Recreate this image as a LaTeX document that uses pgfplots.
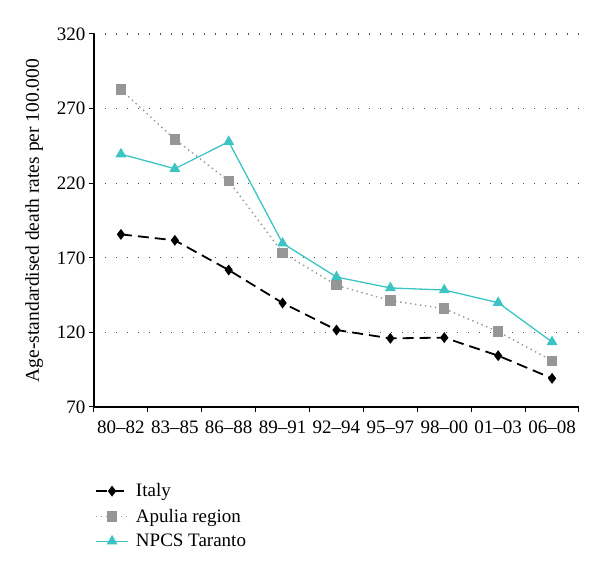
\documentclass[border=0pt]{standalone}
\usepackage{fontspec}
\setmainfont{Liberation Serif}
\usepackage{pgfplots}
\pgfplotsset{compat=1.18}
\definecolor{tar}{RGB}{60,196,196}
\definecolor{apu}{RGB}{150,150,150}
\begin{document}
\begin{tikzpicture}
\path[use as bounding box] (-94pt,-165pt) rectangle (506pt,407pt);
\begin{axis}[
  at={(0pt,0pt)}, anchor=south west,
  scale only axis, width=485pt, height=373pt,
  xmin=-0.5, xmax=8.5, ymin=70, ymax=320,
  axis x line*=bottom, axis y line*=left,
  axis line style={line width=1.2pt,-},
  xtick={-0.5,0.5,...,8.5},
  x tick label as interval,
  xticklabels={80--82,83--85,86--88,89--91,92--94,95--97,98--00,01--03,06--08},
  ytick={70,120,170,220,270,320},
  tick align=outside, major tick length=5pt,
  tick style={line width=1pt,black},
  ymajorgrids,
  major grid style={dash pattern=on 1.2pt off 9.8pt, line width=1.2pt, black!70},
  /pgf/number format/assume math mode=true,
  tick label style={font=\fontsize{19}{22}\selectfont},
  xticklabel style={yshift=-5pt},
  ylabel={Age-standardised death rates per 100.000},
  ylabel style={font=\fontsize{19.5}{22}\selectfont},
  ylabel shift=7pt,
  legend cell align=left,
  legend style={at={(0.002,-0.2)}, anchor=north west, draw=none, fill=none,
    font=\fontsize{19}{22}\selectfont, row sep=6.5pt, column sep=3pt, inner sep=0pt,
    nodes={inner xsep=4pt}},
  legend image code/.code={\draw[mark repeat=2,mark phase=2] plot coordinates {(0pt,0pt)(16pt,0pt)(32pt,0pt)};},
]
\addplot[black, line width=1.8pt, dash pattern=on 11pt off 6pt, mark=diamond*, mark size=4pt, mark options={solid,fill=black}]
coordinates {(0,185.7)(1,181.7)(2,161.8)(3,139.7)(4,121.6)(5,116)(6,116.5)(7,104.4)(8,89.2)};
\addlegendentry{Italy}
\addplot[apu, line width=1.4pt, dash pattern=on 1.4pt off 3.6pt, mark=square*, mark size=4.5pt, mark options={solid,fill=apu}]
coordinates {(0,282.7)(1,249.4)(2,221.5)(3,173.4)(4,151.6)(5,141.3)(6,135.9)(7,120.5)(8,101)};
\addlegendentry{Apulia region}
\addplot[tar, line width=1.3pt, mark=triangle*, mark size=5pt, mark options={solid,fill=tar}]
coordinates {(0,239.5)(1,229.7)(2,247.8)(3,179.7)(4,157.1)(5,149.8)(6,148.4)(7,139.9)(8,113.6)};
\addlegendentry{NPCS Taranto}
\end{axis}
\end{tikzpicture}
\end{document}
